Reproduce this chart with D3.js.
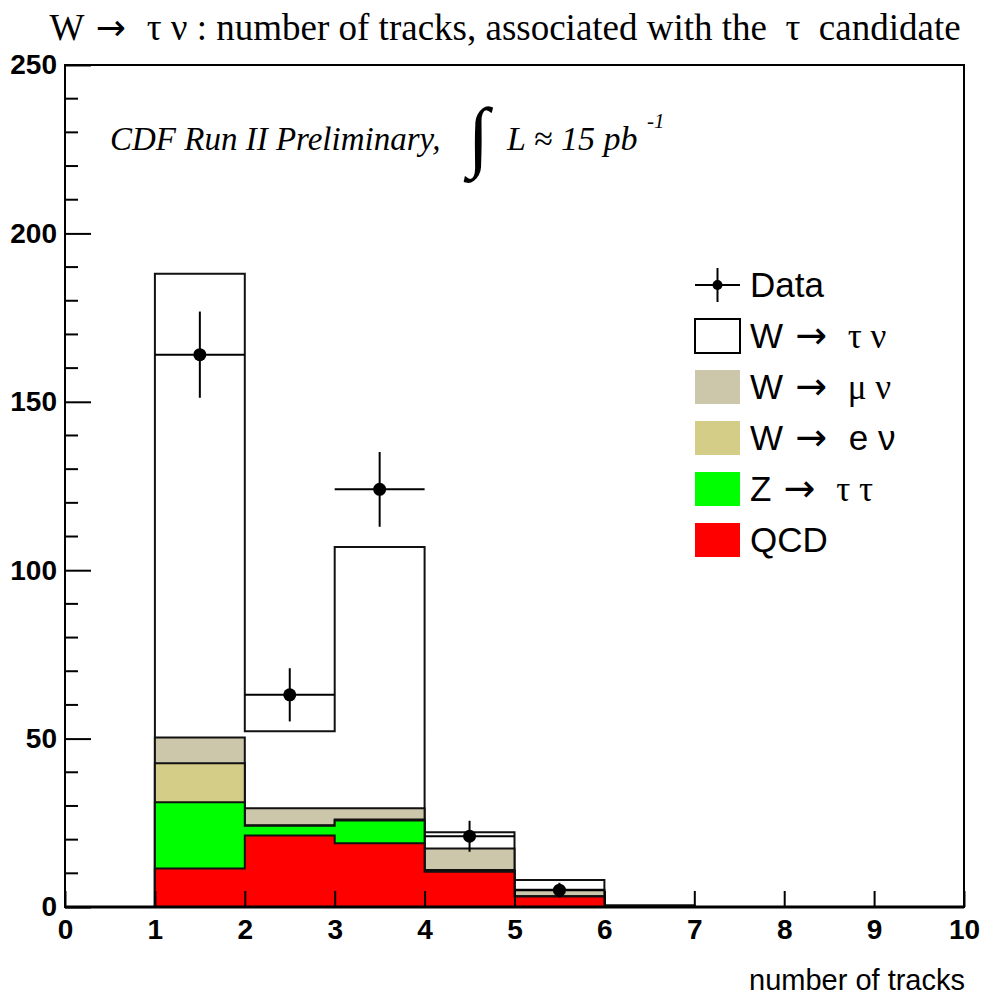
<!DOCTYPE html>
<html>
<head>
<meta charset="utf-8">
<script src="https://cdn.jsdelivr.net/npm/d3@7"></script>
<style>
body { margin:0; background:#fff; }
</style>
</head>
<body>
<script>
// bins: number of tracks, lower edge of each bin
var binLow = [0, 1, 2, 3, 4, 5, 6, 7, 8, 9];
var qcd    = [0, 11.4, 21.2, 18.9, 10.5, 3.1, 0.1, 0, 0, 0];
var ztautau= [0, 19.7, 2.9, 6.8, 0.3, 0, 0, 0, 0, 0];
var wenu   = [0, 11.6, 0.2, 0.3, 0.2, 0.1, 0, 0, 0, 0];
var wmunu  = [0, 7.6, 5.0, 3.3, 6.4, 1.9, 0.1, 0, 0, 0];
var wtaunu = [0, 137.7, 22.9, 77.6, 4.8, 2.9, 0.3, 0, 0, 0];

var dataX   = [1.5, 2.5, 3.5, 4.5, 5.5];
var dataY   = [164, 63, 124, 21, 5];
var dataErr = [12.8, 7.9, 11.1, 4.6, 2.2];

var xTicks = [0, 1, 2, 3, 4, 5, 6, 7, 8, 9, 10];
var yTicks = [0, 50, 100, 150, 200, 250];

var keys   = ["qcd", "ztt", "wenu", "wmunu", "wtaunu"];
var colors = {qcd:"#ff0000", ztt:"#00ff00", wenu:"#d3cd87", wmunu:"#ccc6aa", wtaunu:"#ffffff"};

var rows = binLow.map(function(b, i) {
  return {bin:b, qcd:qcd[i], ztt:ztautau[i], wenu:wenu[i], wmunu:wmunu[i], wtaunu:wtaunu[i]};
});
var series = d3.stack().keys(keys)(rows);

var svg = d3.select("body").append("svg")
  .attr("width", 984).attr("height", 998);

var X = d3.scaleLinear().domain([0, 10]).range([65, 964]);
var Y = d3.scaleLinear().domain([0, 250]).range([907, 65]);

var sans  = "'Liberation Sans', Arial, sans-serif";
var serif = "'Liberation Serif', 'Times New Roman', serif";
var arrowFont = "'DejaVu Sans', sans-serif";

// step area from 0 up to the top of a cumulative layer
function stepPoints(s) {
  var pts = [];
  s.forEach(function(d, i) {
    pts.push([binLow[i], d[1]]);
    pts.push([binLow[i] + 1, d[1]]);
  });
  return pts;
}
var area = d3.area()
  .x(function(p) { return X(p[0]); })
  .y0(Y(0))
  .y1(function(p) { return Y(p[1]); });

svg.append("g").attr("class", "stack")
  .selectAll("path")
  .data(series.slice().reverse())
  .enter()
  .append("path")
  .attr("d", function(s) { return area(stepPoints(s)); })
  .attr("fill", function(s) { return colors[s.key]; })
  .attr("stroke", "#111")
  .attr("stroke-width", 2)
  .attr("stroke-linejoin", "miter");

// frame
svg.append("rect")
  .attr("x", 65).attr("y", 65)
  .attr("width", 899).attr("height", 842)
  .attr("fill", "none").attr("stroke", "#000").attr("stroke-width", 2);
// histogram baseline (thicker, like the outline in the original)
svg.append("line")
  .attr("x1", X(0)).attr("x2", X(10)).attr("y1", Y(0)).attr("y2", Y(0))
  .attr("stroke", "#000").attr("stroke-width", 3);

// y axis
var yAxis = d3.axisLeft(Y).tickValues(yTicks).tickSize(-26).tickPadding(8)
  .tickFormat(d3.format("d"));
var gy = svg.append("g").attr("class", "y axis")
  .attr("transform", "translate(65,0)")
  .call(yAxis);
gy.select(".domain").remove();
gy.selectAll("line").attr("stroke-width", 2);
gy.selectAll("text")
  .attr("x", -8)
  .style("font-family", sans)
  .style("font-weight", "bold")
  .style("font-size", "28px")
  .attr("fill", "#000");
// minor y ticks
svg.append("g").attr("class", "y minor")
  .selectAll("line")
  .data(d3.range(0, 251, 10).filter(function(v) { return v % 50 != 0; }))
  .enter()
  .append("line")
  .attr("x1", 65).attr("x2", 78)
  .attr("y1", function(d) { return Y(d); })
  .attr("y2", function(d) { return Y(d); })
  .attr("stroke", "#000").attr("stroke-width", 2);

// x axis
var xAxis = d3.axisBottom(X).tickValues(xTicks).tickSize(-16).tickPadding(12)
  .tickFormat(d3.format("d"));
var gx = svg.append("g").attr("class", "x axis")
  .attr("transform", "translate(0,907)")
  .call(xAxis);
gx.select(".domain").remove();
gx.selectAll("line").attr("stroke-width", 2);
gx.selectAll("text")
  .style("font-family", sans)
  .style("font-weight", "bold")
  .style("font-size", "28px")
  .attr("fill", "#000");

svg.append("text")
  .attr("x", 965).attr("y", 990)
  .attr("text-anchor", "end")
  .style("font-family", sans)
  .style("font-size", "29px")
  .text("number of tracks");

// data points with errors
var gd = svg.append("g").attr("class", "data");
gd.selectAll("line.h").data(dataX).enter().append("line").attr("class", "h")
  .attr("x1", function(d) { return X(d - 0.5); })
  .attr("x2", function(d) { return X(d + 0.5); })
  .attr("y1", function(d, i) { return Y(dataY[i]); })
  .attr("y2", function(d, i) { return Y(dataY[i]); })
  .attr("stroke", "#000").attr("stroke-width", 2);
gd.selectAll("line.v").data(dataX).enter().append("line").attr("class", "v")
  .attr("x1", function(d) { return X(d); })
  .attr("x2", function(d) { return X(d); })
  .attr("y1", function(d, i) { return Y(dataY[i] + dataErr[i]); })
  .attr("y2", function(d, i) { return Y(dataY[i] - dataErr[i]); })
  .attr("stroke", "#000").attr("stroke-width", 2);
gd.selectAll("circle").data(dataX).enter().append("circle")
  .attr("cx", function(d) { return X(d); })
  .attr("cy", function(d, i) { return Y(dataY[i]); })
  .attr("r", 6.5)
  .attr("fill", "#000");

// title
var title = svg.append("text")
  .attr("x", 505).attr("y", 40)
  .attr("text-anchor", "middle")
  .attr("xml:space", "preserve")
  .style("font-family", serif)
  .style("font-size", "37px");
title.append("tspan").text("W");
title.append("tspan").style("font-family", arrowFont).style("font-size", "36px").text(" \u2192 ");
title.append("tspan").text(" \u03C4 \u03BD : number of tracks, associated with the  \u03C4  candidate");

// CDF label
svg.append("text")
  .attr("x", 110).attr("y", 150)
  .style("font-family", serif).style("font-style", "italic").style("font-size", "33px")
  .text("CDF Run II Preliminary,");
svg.append("text")
  .attr("x", 468).attr("y", 162)
  .style("font-family", serif).style("font-size", "78px")
  .text("\u222B");
svg.append("text")
  .attr("x", 507).attr("y", 150)
  .style("font-family", serif).style("font-style", "italic").style("font-size", "34px")
  .text("L \u2248 15 pb");
svg.append("text")
  .attr("x", 647).attr("y", 128)
  .style("font-family", serif).style("font-style", "italic").style("font-size", "21px")
  .text("-1");

// legend
var legItems = [
  {key:"data",   a:"Data", b:"", c:""},
  {key:"wtaunu", a:"W", b:"\u2192", c:" \u03C4 \u03BD"},
  {key:"wmunu",  a:"W", b:"\u2192", c:" \u03BC \u03BD"},
  {key:"wenu",   a:"W", b:"\u2192", c:" e \u03BD"},
  {key:"ztt",    a:"Z", b:"\u2192", c:" \u03C4 \u03C4"},
  {key:"qcd",    a:"QCD", b:"", c:""}
];
var leg = svg.append("g").attr("class", "legend")
  .attr("transform", "translate(695,285)");
var li = leg.selectAll("g").data(legItems).enter().append("g")
  .attr("transform", function(d, i) { return "translate(0," + (i * 51) + ")"; });
li.filter(function(d) { return d.key != "data"; })
  .append("rect")
  .attr("x", 0).attr("y", -17).attr("width", 45).attr("height", 34)
  .attr("fill", function(d) { return colors[d.key]; })
  .attr("stroke", function(d) { return d.key == "wtaunu" ? "#000" : "none"; })
  .attr("stroke-width", 2);
var ld = li.filter(function(d) { return d.key == "data"; });
ld.append("line").attr("x1", 0).attr("x2", 45).attr("y1", 0).attr("y2", 0)
  .attr("stroke", "#000").attr("stroke-width", 2);
ld.append("line").attr("x1", 22.5).attr("x2", 22.5).attr("y1", -17).attr("y2", 17)
  .attr("stroke", "#000").attr("stroke-width", 2);
ld.append("circle").attr("cx", 22.5).attr("cy", 0).attr("r", 5).attr("fill", "#000");
var lt = li.append("text")
  .attr("x", 55).attr("y", 12)
  .attr("xml:space", "preserve")
  .style("font-size", "35px");
lt.append("tspan")
  .style("font-family", sans)
  .text(function(d) { return d.a; });
lt.append("tspan")
  .style("font-family", arrowFont)
  .style("font-size", "38px")
  .text(function(d) { return d.b ? " " + d.b + " " : ""; });
lt.append("tspan")
  .style("font-family", function(d) { return d.key == "wenu" ? sans : serif; })
  .text(function(d) { return d.c; });
</script>
</body>
</html>
